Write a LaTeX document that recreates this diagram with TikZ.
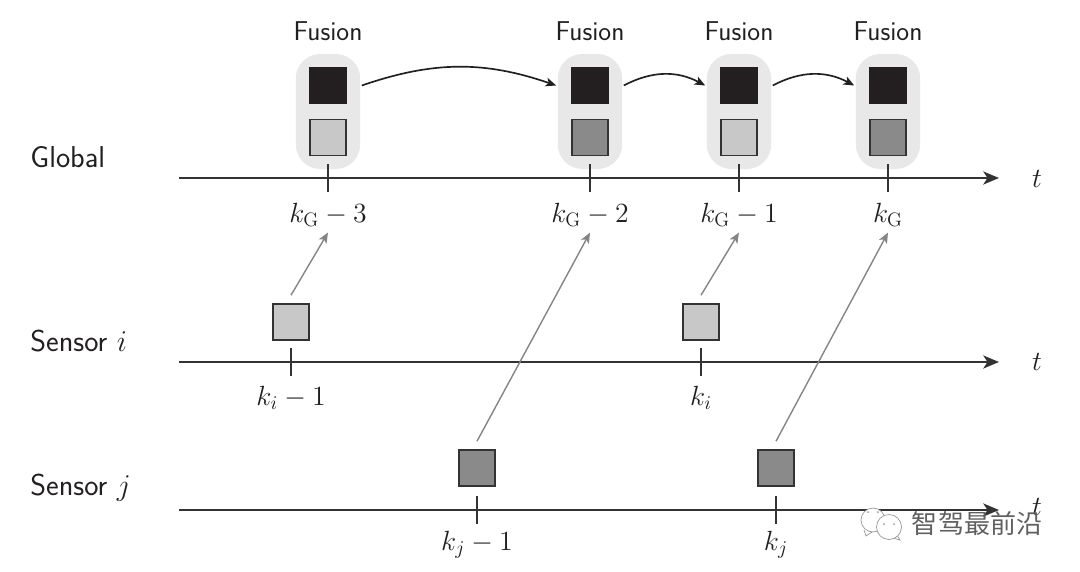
\documentclass[tikz,border=0pt]{standalone}
\usepackage{fix-cm}
\usepackage{amsmath,amssymb}
\usepackage{xcolor}
\usepackage{fontspec}
\newfontfamily\cjk{Noto Sans CJK SC}
\usetikzlibrary{arrows.meta,positioning,fit,backgrounds}
\definecolor{inkdark}{HTML}{231F20}
\definecolor{axisdark}{HTML}{333333}
\definecolor{lightsq}{HTML}{C8C8C8}
\definecolor{midsq}{HTML}{8A8A8A}
\definecolor{groupgray}{HTML}{E8E8E8}
\tikzset{
  lab/.style={font=\fontsize{15.5}{18}\selectfont\sffamily,text=inkdark,inner sep=0pt},
  sidelab/.style={font=\fontsize{17.2}{20}\selectfont\sffamily,text=inkdark,inner sep=0pt,anchor=west},
  mathlab/.style={font=\fontsize{15.8}{18}\selectfont,text=inkdark,inner sep=0pt},
  sq/.style={draw=axisdark,line width=1pt,minimum size=0.72cm,inner sep=0pt},
  fused/.style={fill=inkdark,draw=inkdark,line width=1pt,minimum size=0.72cm,inner sep=0pt},
  grp/.style={fill=groupgray,rounded corners=14pt,inner xsep=7.6pt,inner ysep=7.2pt},
  axisline/.style={draw=axisdark,line width=1.1pt,-{Stealth[length=9pt,width=7.5pt,inset=2.5pt]}},
  tickmark/.style={fill=axisdark,inner sep=0pt,minimum width=1.6pt,minimum height=0.56cm},
  sendline/.style={draw=black!48,line width=0.8pt,-{Stealth[length=6pt,width=5pt,inset=1.5pt]}},
  fuseline/.style={draw=inkdark,line width=0.95pt,-{Stealth[length=6pt,width=5pt,inset=1.5pt]}},
  wechat/.style={circle,draw=gray!80,line width=0.4pt,fill=white,inner sep=0pt}
}
\begin{document}
\begin{tikzpicture}[x=0.02cm,y=-0.02cm]
\useasboundingbox (0,0) rectangle (1080,572);
% Global line
\coordinate (gs) at (179,178);
\coordinate (ge) at (999,178);
\draw[axisline] (gs) -- (ge);
\node[sidelab] (global) at (30,157) {Global};
\node[mathlab] (tg) at (1037,179) {$t$};
\node[tickmark] (tg1) at (328,178) {};
\node[tickmark] (tg2) at (590,178) {};
\node[tickmark] (tg3) at (739,178) {};
\node[tickmark] (tg4) at (888,178) {};
\node[mathlab] (lg1) at (328,215) {$k_{\mathrm{G}}-3$};
\node[mathlab] (lg2) at (590,215) {$k_{\mathrm{G}}-2$};
\node[mathlab] (lg3) at (739,215) {$k_{\mathrm{G}}-1$};
\node[mathlab] (lg4) at (888,215) {$k_{\mathrm{G}}$};
% Fusion groups
\node[lab] (f1) at (328,31) {Fusion};
\node[lab] (f2) at (590,31) {Fusion};
\node[lab] (f3) at (739,31) {Fusion};
\node[lab] (f4) at (888,31) {Fusion};
\node[fused] (b1) at (328,85.5) {};
\node[fused] (b2) at (590,85.5) {};
\node[fused] (b3) at (739,85.5) {};
\node[fused] (b4) at (888,85.5) {};
\node[sq,fill=lightsq] (c1) at (328,137.5) {};
\node[sq,fill=midsq] (c2) at (590,137.5) {};
\node[sq,fill=lightsq] (c3) at (739,137.5) {};
\node[sq,fill=midsq] (c4) at (888,137.5) {};
\begin{scope}[on background layer]
\node[grp,fit=(b1)(c1)] (g1) {};
\node[grp,fit=(b2)(c2)] (g2) {};
\node[grp,fit=(b3)(c3)] (g3) {};
\node[grp,fit=(b4)(c4)] (g4) {};
\end{scope}
\draw[fuseline] ([xshift=8.5pt]b1.east) to[bend left=19] ([xshift=-8.5pt]b2.west);
\draw[fuseline] ([xshift=8.5pt]b2.east) to[bend left=28] ([xshift=-8.5pt]b3.west);
\draw[fuseline] ([xshift=8.5pt]b3.east) to[bend left=28] ([xshift=-8.5pt]b4.west);
% Sensor i
\coordinate (is) at (179,362);
\coordinate (ie) at (999,362);
\draw[axisline] (is) -- (ie);
\node[sidelab] (sensi) at (30,341) {Sensor $i$};
\node[mathlab] (ti) at (1037,362) {$t$};
\node[tickmark] (ti1) at (291,362) {};
\node[tickmark] (ti2) at (701,362) {};
\node[sq,fill=lightsq] (si1) at (291,322) {};
\node[sq,fill=lightsq] (si2) at (701,322) {};
\node[mathlab] (li1) at (291,398) {$k_i-1$};
\node[mathlab] (li2) at (701,398) {$k_i$};
% Sensor j
\coordinate (js) at (179,510);
\coordinate (je) at (999,510);
\draw[axisline] (js) -- (je);
\node[sidelab] (sensj) at (30,488) {Sensor $j$};
\node[mathlab] (tj) at (1037,507) {$t$};
\node[tickmark] (tj1) at (477,510) {};
\node[tickmark] (tj2) at (776,510) {};
\node[sq,fill=midsq] (sj1) at (477,468) {};
\node[sq,fill=midsq] (sj2) at (776,468) {};
\node[mathlab] (lj1) at (477,545) {$k_j-1$};
\node[mathlab] (lj2) at (776,545) {$k_j$};
% Sent to global
\draw[sendline] ([yshift=4.5pt]si1.north) -- ([yshift=-3pt]lg1.south);
\draw[sendline] ([yshift=4.5pt]si2.north) -- ([yshift=-3pt]lg3.south);
\draw[sendline] ([yshift=4.5pt]sj1.north) -- ([yshift=-3pt]lg2.south);
\draw[sendline] ([yshift=4.5pt]sj2.north) -- ([yshift=-3pt]lg4.south);
% Watermark
\draw[gray!80,line width=0.4pt,fill=white] (864,530) -- (866,536) -- (872,532);
\node[wechat,minimum size=0.48cm] (wl) at (873,520) {};
\fill[gray!80] (868,512) circle (1) (878,512) circle (1);
\draw[gray!80,line width=0.4pt,fill=white] (897,535) -- (900,540) -- (893,538);
\node[wechat,minimum size=0.5cm] (wr) at (889,527) {};
\fill[gray!80] (884,524) circle (1) (894,524) circle (1);
\node[font=\fontsize{14.8}{16}\selectfont\cjk,text=gray!75!black,inner sep=0pt] (mark) at (977,524) {智驾最前沿};
\end{tikzpicture}
\end{document}
